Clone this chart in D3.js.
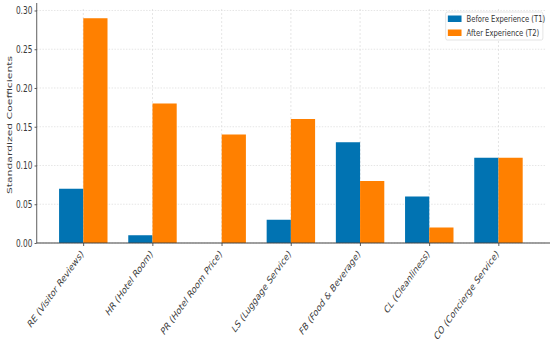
<!DOCTYPE html>
<html>
<head>
<meta charset="utf-8">
<script src="https://cdn.jsdelivr.net/npm/d3@7"></script>
<style>
  html, body { margin: 0; padding: 0; background: #fff; }
  svg { display: block; font-family: "DejaVu Sans", sans-serif; }
</style>
</head>
<body>
<svg id="chart" width="550" height="344"></svg>
<script>
// data
const categories = [
  "RE (Visitor Reviews)",
  "HR (Hotel Room)",
  "PR (Hotel Room Price)",
  "LS (Luggage Service)",
  "FB (Food & Beverage)",
  "CL (Cleanliness)",
  "CO (Concierge Service)"
];
const beforeT1 = [0.07, 0.01, 0.00, 0.03, 0.13, 0.06, 0.11];
const afterT2  = [0.29, 0.18, 0.14, 0.16, 0.08, 0.02, 0.11];
const yTicks = [0.00, 0.05, 0.10, 0.15, 0.20, 0.25, 0.30];
const seriesNames = ["Before Experience (T1)", "After Experience (T2)"];
const colors = ["#0173b2", "#ff8000"];

// the reference looks like a squeezed matplotlib figure, so draw wide and squeeze
const SQUEEZE = 0.72;
const W = 550 / SQUEEZE, H = 344;
const margin = {left: 51, right: W - 757, top: 7, bottom: H - 243};

const svg = d3.select("#chart");
const root = svg.append("g").attr("transform", `scale(${SQUEEZE},1)`);

const x = d3.scaleLinear()
  .domain([-0.673, categories.length - 1 + 0.673])
  .range([margin.left, W - margin.right]);
const y = d3.scaleLinear()
  .domain([0, 0.3045])
  .range([H - margin.bottom, margin.top]);
const barW = 0.35;

// grid
const grid = root.append("g").attr("stroke", "#d9d9d9").attr("stroke-width", 0.8)
  .attr("stroke-dasharray", "2,2");
grid.selectAll("line.h").data(yTicks).join("line")
  .attr("class", "h")
  .attr("x1", x.range()[0]).attr("x2", x.range()[1])
  .attr("y1", d => y(d)).attr("y2", d => y(d));
grid.selectAll("line.v").data(categories).join("line")
  .attr("class", "v")
  .attr("x1", (d, i) => x(i)).attr("x2", (d, i) => x(i))
  .attr("y1", y.range()[0]).attr("y2", y.range()[1]);

// bars
[beforeT1, afterT2].forEach((vals, s) => {
  const off = s === 0 ? -barW : 0;
  root.append("g").selectAll("rect").data(vals).join("rect")
    .attr("x", (d, i) => x(i + off))
    .attr("width", x(barW) - x(0))
    .attr("y", d => y(d))
    .attr("height", d => y(0) - y(d))
    .attr("fill", colors[s]);
});

// axes
const yAxis = d3.axisLeft(y).tickValues(yTicks).tickFormat(d3.format(".2f")).tickSize(3).tickPadding(3);
const gy = root.append("g").attr("transform", `translate(${margin.left},0)`).call(yAxis);
gy.select(".domain").attr("stroke", "#444").attr("d", `M0,${y(0)}V${margin.top - 4}`);
gy.selectAll(".tick line").attr("stroke", "#444");
gy.selectAll("text").attr("font-size", 10.3).attr("fill", "#3a3a3a").attr("font-family", "DejaVu Sans");

const xAxis = d3.axisBottom(x).tickValues(d3.range(categories.length))
  .tickFormat(i => categories[i]).tickSize(3).tickPadding(4);
const gx = root.append("g").attr("transform", `translate(0,${y(0)})`).call(xAxis);
gx.select(".domain").attr("stroke", "#444").attr("stroke-width", 1.2)
  .attr("d", `M${margin.left},0H${W}`);
gx.selectAll(".tick line").attr("stroke", "#444");
gx.selectAll("text")
  .attr("font-size", 10.5).attr("fill", "#3a3a3a").attr("font-family", "DejaVu Sans")
  .attr("text-anchor", "end")
  .attr("dy", "0.35em")
  .attr("transform", "translate(-2,9) rotate(-45)")
  .attr("y", 0).attr("x", 0);

// y label
root.append("text")
  .attr("transform", `translate(17,${(y(0) + y(0.3045)) / 2}) rotate(-90)`)
  .attr("text-anchor", "middle")
  .attr("font-size", 10.8).attr("fill", "#3a3a3a")
  .text("Standardized Coefficients");

// legend
const lg = root.append("g").attr("transform", "translate(619,12)");
lg.append("rect").attr("width", 135).attr("height", 28).attr("rx", 2)
  .attr("fill", "#fff").attr("fill-opacity", 0.85).attr("stroke", "#e0e0e0");
seriesNames.forEach((name, s) => {
  lg.append("rect").attr("x", 3).attr("y", 3.5 + s * 14).attr("width", 19).attr("height", 6.5)
    .attr("fill", colors[s]);
  lg.append("text").attr("x", 29).attr("y", 7 + s * 14).attr("dy", "0.35em")
    .attr("font-size", 9.5).attr("fill", "#333").text(name);
});
</script>
</body>
</html>
